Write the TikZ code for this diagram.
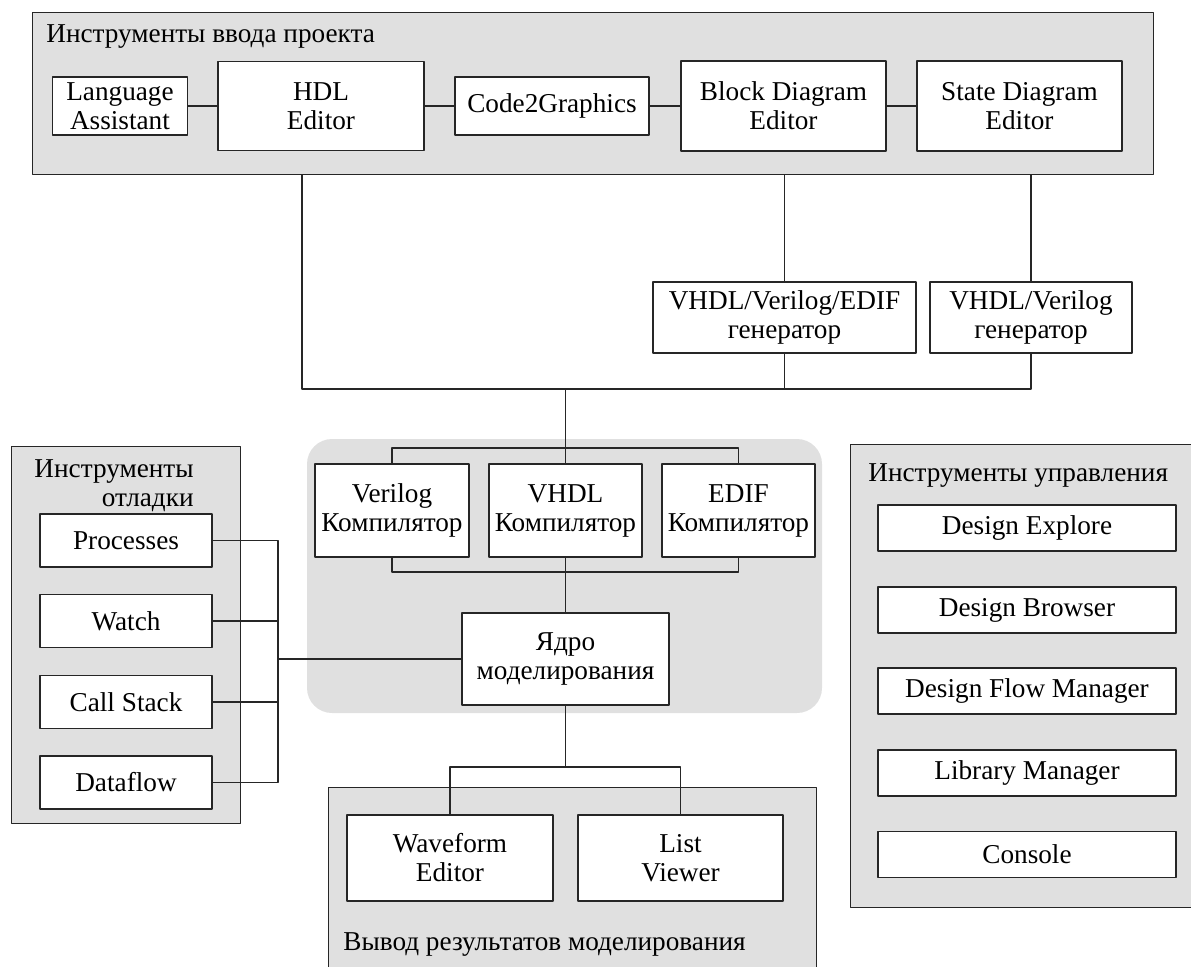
\documentclass[tikz,border=0pt]{standalone}
\usepackage{fontspec}
\setmainfont{Liberation Serif}
\tikzset{
  panel/.style={draw=black!85,fill=black!12,line width=0.8pt,inner sep=0pt,anchor=north west},
  tool/.style={draw=black!85,fill=white,line width=0.8pt,align=center,inner sep=0pt},
  wire/.style={draw=black!85,line width=0.8pt},
  ptitle/.style={inner sep=0pt}
}
\begin{document}
\begin{tikzpicture}[x=0.02cm,y=-0.02cm,line cap=round,line join=round,font=\fontsize{15.5pt}{16.5pt}\selectfont]
  \useasboundingbox (0,0) rectangle (1191,967);
  \clip (0,0) rectangle (1191,967);
  % panels
  \node[panel,minimum width=22.42cm,minimum height=3.24cm] (entry) at (32,12) {};
  \node[ptitle,anchor=base west] (entrytitle) at (46,42) {Инструменты ввода проекта};
  \node[panel,minimum width=4.58cm,minimum height=7.54cm] (debug) at (11,446) {};
  \node[ptitle,align=right,anchor=north east] (debugtitle) at (194,459) {Инструменты\\отладки};
  \node[panel,minimum width=7cm,minimum height=9.26cm] (manage) at (850,444) {};
  \node[ptitle,anchor=base west] (managetitle) at (868,481) {Инструменты управления};
  \node[panel,minimum width=9.76cm,minimum height=4.2cm] (output) at (328,787) {};
  \node[ptitle,anchor=base west] (outputtitle) at (343,950) {Вывод результатов моделирования};
  \fill[black!12,rounded corners=0.5cm] (307,439) rectangle (822,713);
  % design entry
  \node[tool,minimum width=2.69cm,minimum height=1.16cm] (lang) at (120,106) {Language\\Assistant};
  \node[tool,minimum width=4.12cm,minimum height=1.78cm] (hdl) at (321,106) {HDL\\Editor};
  \node[tool,minimum width=3.88cm,minimum height=1.16cm] (c2g) at (552,106) {Code2Graphics};
  \node[tool,minimum width=4.10cm,minimum height=1.80cm] (bde) at (783.5,106) {Block Diagram\\Editor};
  \node[tool,minimum width=4.10cm,minimum height=1.80cm] (sde) at (1019.5,106) {State Diagram\\Editor};
  % generators
  \node[tool,minimum width=5.26cm,minimum height=1.42cm] (gen1) at (784.5,317.5) {VHDL/Verilog/EDIF\\генератор};
  \node[tool,minimum width=4.04cm,minimum height=1.42cm] (gen2) at (1031,317.5) {VHDL/Verilog\\генератор};
  % compilers and kernel
  \node[tool,minimum width=3.08cm,minimum height=1.86cm] (verilog) at (392,510.5) {Verilog\\Компилятор};
  \node[tool,minimum width=3.06cm,minimum height=1.86cm] (vhdl) at (565.5,510.5) {VHDL\\Компилятор};
  \node[tool,minimum width=3.06cm,minimum height=1.86cm] (edif) at (738.5,510.5) {EDIF\\Компилятор};
  \node[tool,minimum width=4.14cm,minimum height=1.84cm] (core) at (565.5,659) {Ядро\\моделирования};
  % debug tools
  \node[tool,minimum width=3.44cm,minimum height=1.06cm] (proc) at (126,540.5) {Processes};
  \node[tool,minimum width=3.44cm,minimum height=1.06cm] (watch) at (126,621) {Watch};
  \node[tool,minimum width=3.44cm,minimum height=1.06cm] (stack) at (126,702) {Call Stack};
  \node[tool,minimum width=3.44cm,minimum height=1.06cm] (flow) at (126,782.5) {Dataflow};
  % management tools
  \node[tool,minimum width=5.96cm,minimum height=0.92cm] (explore) at (1027,528) {Design Explore};
  \node[tool,minimum width=5.96cm,minimum height=0.92cm] (browser) at (1027,610) {Design Browser};
  \node[tool,minimum width=5.96cm,minimum height=0.92cm] (dfm) at (1027,691) {Design Flow Manager};
  \node[tool,minimum width=5.96cm,minimum height=0.92cm] (libman) at (1027,773) {Library Manager};
  \node[tool,minimum width=5.96cm,minimum height=0.92cm] (console) at (1027,854.5) {Console};
  % results
  \node[tool,minimum width=4.12cm,minimum height=1.72cm] (wave) at (450,858) {Waveform\\Editor};
  \node[tool,minimum width=4.10cm,minimum height=1.72cm] (list) at (680.5,858) {List\\Viewer};
  % connections
  \coordinate (genbus) at (302,389);
  \coordinate (compin) at (565.5,448);
  \coordinate (compout) at (565.5,572);
  \coordinate (dbgbus) at (278,659);
  \coordinate (outbus) at (565.5,767);
  \draw[wire] (lang) -- (hdl);
  \draw[wire] (hdl) -- (c2g);
  \draw[wire] (c2g) -- (bde);
  \draw[wire] (bde) -- (sde);
  \draw[wire] (genbus |- entry.south) -- (genbus) -| (gen2.south);
  \draw[wire] (gen1.north |- entry.south) -- (gen1.north);
  \draw[wire] (gen2.north |- entry.south) -- (gen2.north);
  \draw[wire] (gen1.south) -- (gen1.south |- genbus);
  \draw[wire] (genbus -| vhdl) -- (vhdl.north);
  \draw[wire] (verilog.north) |- (compin) -| (edif.north);
  \draw[wire] (verilog.south) |- (compout) -| (edif.south);
  \draw[wire] (vhdl.south) -- (core.north);
  \draw[wire] (proc.east) -| (dbgbus) |- (flow.east);
  \draw[wire] (watch.east) -- (watch.east -| dbgbus);
  \draw[wire] (stack.east) -- (stack.east -| dbgbus);
  \draw[wire] (dbgbus) -- (core.west);
  \draw[wire] (core.south) -- (outbus);
  \draw[wire] (wave.north) |- (outbus) -| (list.north);
\end{tikzpicture}
\end{document}
